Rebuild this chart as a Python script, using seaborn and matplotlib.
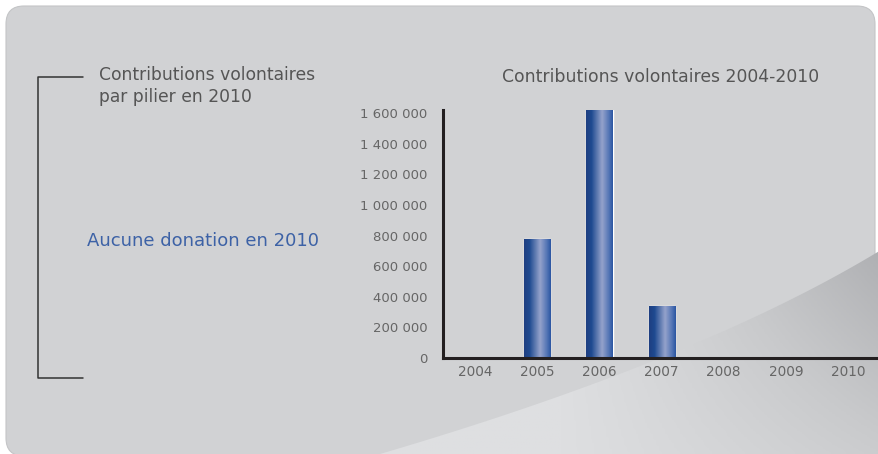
import numpy as np
import pandas as pd
import matplotlib
matplotlib.use("Agg")
import matplotlib.pyplot as plt
import seaborn as sns
from matplotlib.patches import FancyBboxPatch, Polygon
from matplotlib.colors import LinearSegmentedColormap
from matplotlib.ticker import FuncFormatter

# Data
years = ['2004', '2005', '2006', '2007', '2008', '2009', '2010']
contributions = [0, 780000, 1620000, 340000, 0, 0, 0]
yticks = [0, 200000, 400000, 600000, 800000, 1000000, 1200000, 1400000, 1600000]

chart_title = 'Contributions volontaires 2004-2010'
side_title = 'Contributions volontaires\npar pilier en 2010'
side_note = 'Aucune donation en 2010'

sns.set_theme(style='white')
plt.rcParams['font.family'] = ['DejaVu Sans']

W, H = 879, 454
fig = plt.figure(figsize=(W / 100, H / 100), dpi=100)
fig.patch.set_facecolor('white')

# ============================================
# Background panel (pixel coordinates)
# ============================================
bg = fig.add_axes([0, 0, 1, 1])
bg.set_xlim(0, W)
bg.set_ylim(H, 0)
bg.axis('off')

panel = FancyBboxPatch((6, 6), W - 10, H - 4, boxstyle='round,pad=0,rounding_size=18',
                       fc='#d1d2d4', ec='#c4c5c7', lw=0.8)
bg.add_patch(panel)

# swoosh curve in lower right: shaded area below the curve
t = np.linspace(0, 1, 60)
p0, p1, p2 = np.array([380, H]), np.array([700, 360]), np.array([W + 2, 250])
curve = ((1 - t) ** 2)[:, None] * p0 + (2 * (1 - t) * t)[:, None] * p1 + (t ** 2)[:, None] * p2

lower = Polygon(np.vstack([curve, [[W + 2, H + 2]]]), closed=True, fc='none', ec='none')
bg.add_patch(lower)

px, py = np.meshgrid(np.linspace(0, W, 300), np.linspace(0, H, 160))
shade = np.clip((px - 560) / 320, 0, 1) * np.clip(1 - (py - 250) / 204 * 0.55, 0, 1)
swoosh_cmap = LinearSegmentedColormap.from_list('sw', ['#dedfe1', '#c9cacc', '#afb0b3'])
im2 = bg.imshow(shade, extent=(0, W, H, 0), cmap=swoosh_cmap, vmin=0, vmax=1,
                aspect='auto', zorder=1)
im2.set_clip_path(lower)
bg.set_xlim(0, W)
bg.set_ylim(H, 0)

# left bracket and texts
bg.plot([83, 38, 38, 83], [77, 77, 378, 378], color='#333333', lw=1.1, zorder=3)
bg.text(99, 66, side_title, fontsize=12.3, color='#555555', va='top', ha='left',
        linespacing=1.25, zorder=3)
bg.text(87, 241, side_note, fontsize=13, color='#3d62a6', va='center', ha='left',
        zorder=3)
bg.text(661, 77, chart_title, fontsize=12.4, color='#555555', va='center', ha='center',
        zorder=3)

# ============================================
# Bar chart
# ============================================
ax = fig.add_axes([443 / W, (H - 358) / H, (W - 443) / W, (358 - 110) / H])
ax.patch.set_alpha(0)
df = pd.DataFrame({'year': years, 'value': contributions})
sns.barplot(data=df, x='year', y='value', color='#2d55a0', width=0.42,
            saturation=1, ax=ax, zorder=2)

ax.set_xlim(-0.52, 6.5)
ax.set_ylim(0, max(contributions))
ax.set_yticks(yticks)
ax.yaxis.set_major_formatter(FuncFormatter(lambda v, p: f'{int(v):,}'.replace(',', ' ')))
ax.set_xlabel('')
ax.set_ylabel('')
ax.tick_params(axis='y', length=0, pad=11, labelsize=9.5, labelcolor='#666666')
ax.tick_params(axis='x', length=0, pad=5, labelsize=9.8, labelcolor='#666666')
for s in ['top', 'right']:
    ax.spines[s].set_visible(False)
for s in ['left', 'bottom']:
    ax.spines[s].set_color('#231f20')
    ax.spines[s].set_linewidth(2.2)
    ax.spines[s].set_zorder(4)

# cylinder-like gradient on bars
bar_cmap = LinearSegmentedColormap.from_list(
    'bar', [(0, '#1f3f82'), (0.2, '#1e4a90'), (0.6, '#95a2cb'), (0.85, '#5677b6'), (1, '#2b56a2')])
grad = np.linspace(0, 1, 64).reshape(1, -1)
for patch in ax.patches:
    x0, y0 = patch.get_x(), patch.get_y()
    w, h = patch.get_width(), patch.get_height()
    if h <= 0:
        continue
    im = ax.imshow(grad, extent=(x0, x0 + w, y0, y0 + h), cmap=bar_cmap,
                   aspect='auto', zorder=3)
    im.set_clip_path(patch)
ax.set_xlim(-0.52, 6.5)
ax.set_ylim(0, max(contributions))

plt.savefig('out.png', dpi=100)
